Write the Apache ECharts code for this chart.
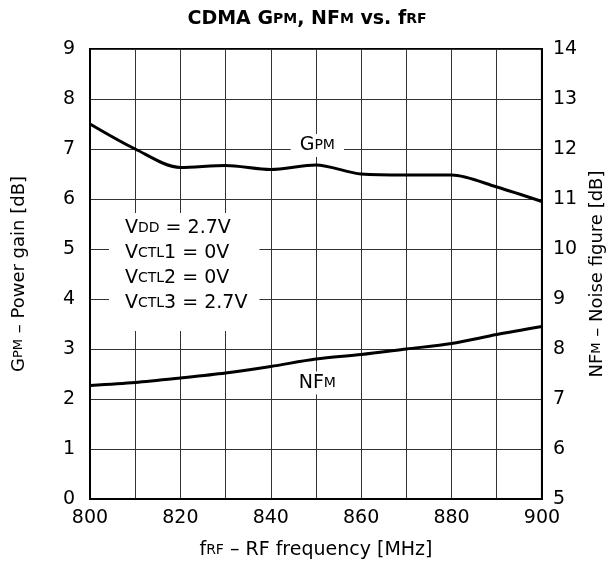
<!DOCTYPE html>
<html>
<head>
<meta charset="utf-8">
<script src="https://cdn.jsdelivr.net/npm/echarts@6/dist/echarts.min.js"></script>
<style>
  html, body { margin: 0; padding: 0; background: #fff; }
  #chart { width: 614px; height: 570px; }
</style>
</head>
<body>
<div id="chart"></div>
<script>
// frequency points [MHz]
const freq = [800, 810, 820, 830, 840, 850, 860, 870, 880, 890, 900]
// power gain GPM [dB]
const gain = [7.5, 7.0, 6.63, 6.67, 6.59, 6.68, 6.5, 6.48, 6.48, 6.24, 5.95]
// noise figure NFM [dB]
const nf = [7.27, 7.33, 7.42, 7.52, 7.65, 7.8, 7.89, 8.0, 8.11, 8.29, 8.45]
const xTicks = [800, 820, 840, 860, 880, 900]

const FONT = 'DejaVu Sans, sans-serif'
// normal / small-caps text pieces for rich labels
const big = (size) => ({ fontFamily: FONT, fontSize: size, color: '#000' })
const small = (size) => ({ fontFamily: FONT, fontSize: size, color: '#000' })
const richSet = (b, s) => ({ n: big(b), s: small(s) })

let chart = echarts.init(document.getElementById('chart'))

let option = {
  animation: false,
  backgroundColor: '#fff',
  textStyle: { fontFamily: FONT, color: '#000' },
  title: {
    left: 'center',
    top: 5,
    text: '{b|CDMA G}{s|PM}{b|, NF}{s|M}{b| vs. f}{s|RF}',
    textStyle: {
      rich: {
        b: { fontFamily: FONT, fontSize: 19, fontWeight: 'bold', color: '#000' },
        s: { fontFamily: FONT, fontSize: 14, fontWeight: 'bold', color: '#000' }
      }
    }
  },
  grid: {
    left: 90, right: 71, top: 49, bottom: 71,
    show: true, borderColor: '#000', borderWidth: 2
  },
  xAxis: {
    type: 'value',
    min: 800, max: 900, interval: 10,
    name: '{n|f}{s|RF}{n| – RF frequency [MHz]}',
    nameLocation: 'middle',
    nameGap: 42,
    nameTextStyle: { rich: richSet(19, 14) },
    axisLine: { show: true, lineStyle: { color: '#000', width: 2 } },
    axisTick: { show: false },
    axisLabel: {
      fontSize: 19, color: '#000', margin: 10,
      formatter: v => xTicks.indexOf(v) >= 0 ? String(v) : ''
    },
    splitLine: { show: true, lineStyle: { color: '#333', width: 1 } }
  },
  yAxis: [
    {
      type: 'value',
      min: 0, max: 9, interval: 1,
      name: '{n|G}{s|PM}{n| – Power gain [dB]}',
      nameLocation: 'middle',
      nameGap: 62,
      nameTextStyle: { rich: richSet(18, 13) },
      axisLine: { show: true, lineStyle: { color: '#000', width: 2 } },
      axisTick: { show: false },
      axisLabel: { fontSize: 19, color: '#000', margin: 15 },
      splitLine: { show: true, lineStyle: { color: '#333', width: 1 } }
    },
    {
      type: 'value',
      min: 5, max: 14, interval: 1,
      position: 'right',
      name: '{n|NF}{s|M}{n| – Noise figure [dB]}',
      nameLocation: 'middle',
      nameGap: 44,
      nameRotate: 90,
      nameTextStyle: { rich: richSet(18, 13) },
      axisLine: { show: true, lineStyle: { color: '#000', width: 2 } },
      axisTick: { show: false },
      axisLabel: { fontSize: 19, color: '#000', margin: 11 },
      splitLine: { show: false }
    }
  ],
  series: [
    {
      name: 'GPM',
      type: 'line',
      yAxisIndex: 0,
      smooth: 0.3,
      symbol: 'none',
      lineStyle: { color: '#000', width: 3 },
      data: freq.map((f, i) => [f, gain[i]]),
      markPoint: {
        symbol: 'rect',
        symbolSize: 1,
        itemStyle: { color: 'rgba(0,0,0,0)' },
        data: [
          {
            coord: [850.3, 7.07],
            label: {
              show: true,
              position: 'inside',
              backgroundColor: '#fff',
              padding: [2, 9],
              formatter: '{n|G}{s|PM}',
              rich: richSet(19, 14)
            }
          },
          {
            coord: [804.2, 5.72],
            label: {
              show: true,
              position: 'inside',
              backgroundColor: '#fff',
              padding: [3, 12, 15, 16],
              align: 'left',
              verticalAlign: 'top',
              formatter: [
                '{n|V}{s|DD}{n| = 2.7V}',
                '{n|V}{s|CTL}{n|1 = 0V}',
                '{n|V}{s|CTL}{n|2 = 0V}',
                '{n|V}{s|CTL}{n|3 = 2.7V}'
              ].join('\n'),
              rich: {
                n: Object.assign(big(19), { lineHeight: 25 }),
                s: Object.assign(small(14), { lineHeight: 25 })
              }
            }
          }
        ]
      }
    },
    {
      name: 'NFM',
      type: 'line',
      yAxisIndex: 1,
      smooth: 0.3,
      symbol: 'none',
      lineStyle: { color: '#000', width: 3 },
      data: freq.map((f, i) => [f, nf[i]]),
      markPoint: {
        symbol: 'rect',
        symbolSize: 1,
        itemStyle: { color: 'rgba(0,0,0,0)' },
        data: [
          {
            coord: [850.3, 7.32],
            label: {
              show: true,
              position: 'inside',
              backgroundColor: '#fff',
              padding: [2, 4],
              formatter: '{n|NF}{s|M}',
              rich: richSet(19, 14)
            }
          }
        ]
      }
    }
  ]
}

chart.setOption(option, true)
</script>
</body>
</html>
